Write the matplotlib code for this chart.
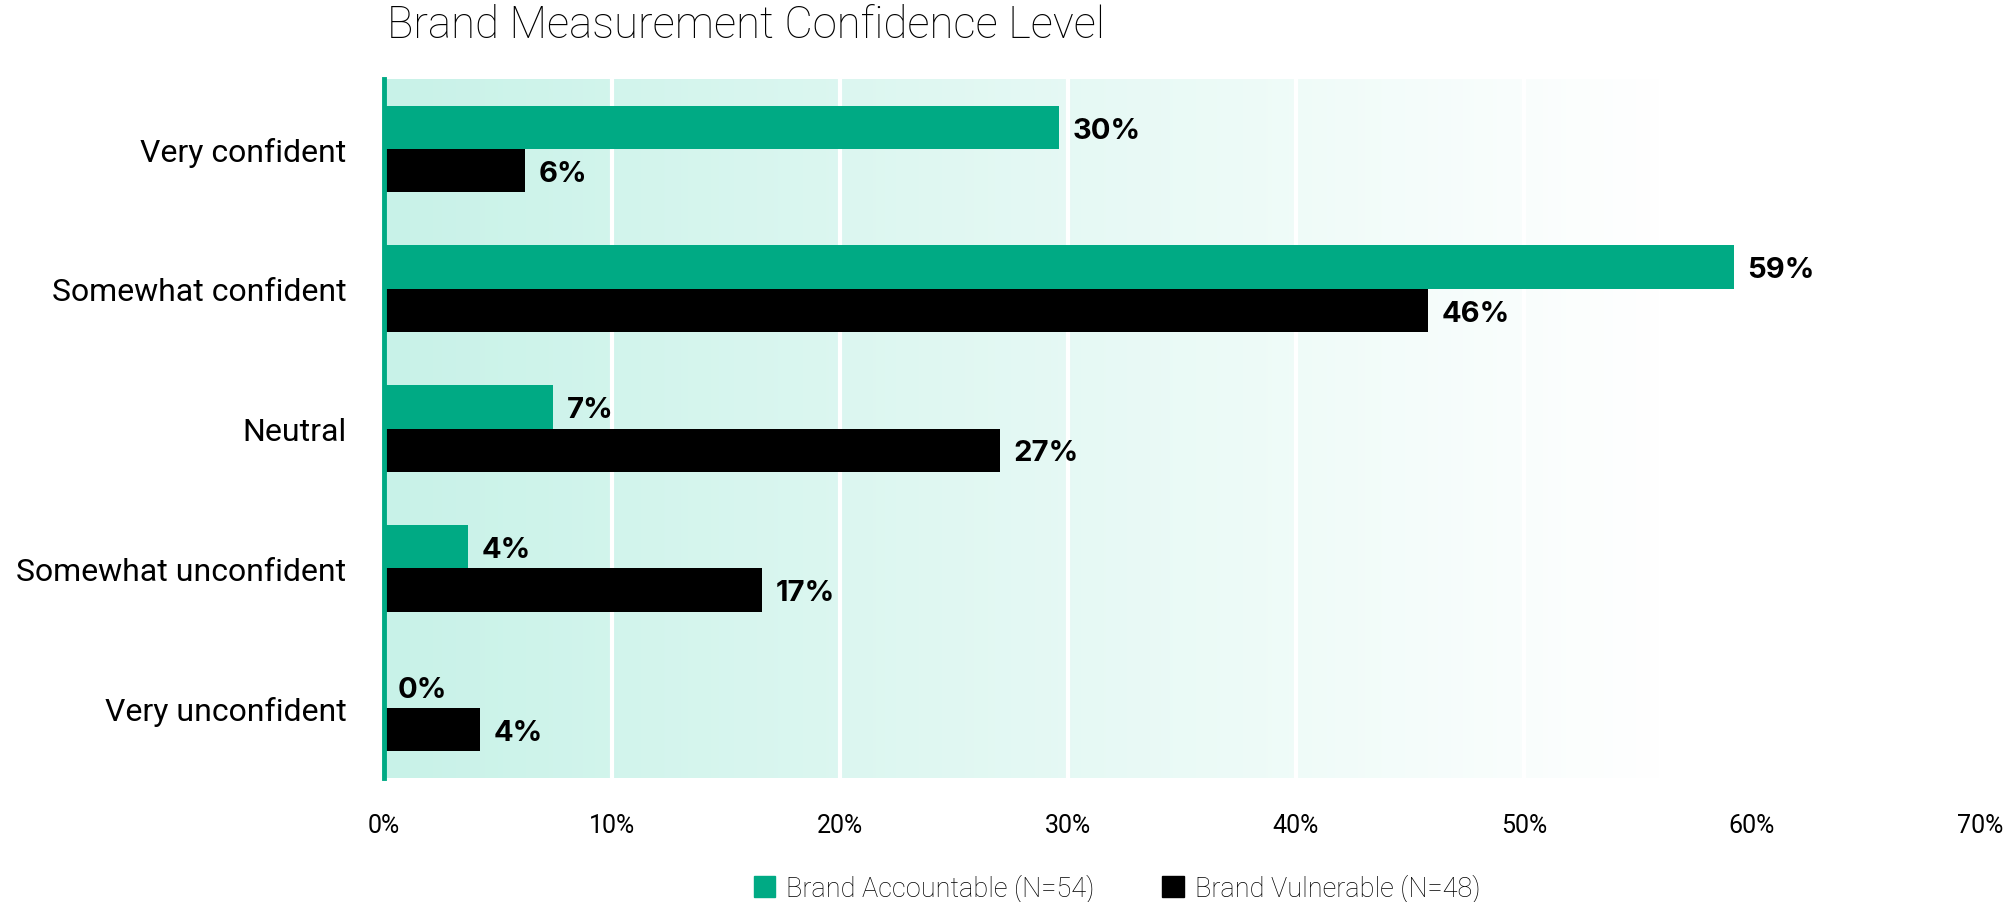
import numpy as np
import matplotlib
matplotlib.use("Agg")
import matplotlib.pyplot as plt
from matplotlib.patches import Patch

categories = ["Very confident", "Somewhat confident", "Neutral",
              "Somewhat unconfident", "Very unconfident"]
accountable = [29.6, 59.2, 7.4, 3.7, 0.0]
vulnerable = [6.2, 45.8, 27.0, 16.6, 4.2]
series_names = ["Brand Accountable (N=54)", "Brand Vulnerable (N=48)"]
xticks = [0, 10, 20, 30, 40, 50, 60, 70]
title = "Brand Measurement Confidence Level"

GREEN = "#00AA84"
BLACK = "#000000"

fig = plt.figure(figsize=(20.08, 9.03), dpi=100)
ax = fig.add_axes([384/2008, 1-779/903, (1980-384)/2008, (779-80)/903])

# gradient background
grad_end = 56
n = 256
xs = np.linspace(0, 70, n)
frac = np.clip(xs / grad_end, 0, 1)
start = np.array([200, 242, 232]) / 255.0
cols = start[None, :] * (1 - frac[:, None]) + np.ones(3)[None, :] * frac[:, None]
img = cols[None, :, :]
ax.imshow(img, extent=[0, 70, 4.5, -0.5], aspect="auto", zorder=0, interpolation="bilinear")

y = np.arange(len(categories))
h = 0.31
ax.barh(y - h/2, accountable, height=h, color=GREEN, zorder=3)
ax.barh(y + h/2, vulnerable, height=h, color=BLACK, zorder=3)

for i, (a, v) in enumerate(zip(accountable, vulnerable)):
    ax.text(a + 0.6, i - h/2 + 0.02, f"{round(a)}%", va="center", ha="left",
            fontsize=21, fontweight="bold", family="Inter", color="black", zorder=4)
    ax.text(v + 0.6, i + h/2 + 0.02, f"{round(v)}%", va="center", ha="left",
            fontsize=21, fontweight="bold", family="Inter", color="black", zorder=4)

ax.set_xlim(0, 70)
ax.set_ylim(4.5, -0.5)
ax.set_yticks(y)
ax.set_yticklabels(categories, fontsize=23, family="Roboto", fontweight="normal")
ax.set_xticks(xticks)
ax.set_xticklabels([f"{t}%" for t in xticks], fontsize=18, family="Roboto", fontweight="normal")
ax.tick_params(axis="both", length=0)
ax.tick_params(axis="y", pad=27)
ax.tick_params(axis="x", pad=25)

for t in xticks[1:6]:
    ax.axvline(t, color="white", lw=3, zorder=1)

for s in ["top", "right", "bottom"]:
    ax.spines[s].set_visible(False)
ax.spines["left"].set_color(GREEN)
ax.spines["left"].set_linewidth(3.5)
ax.spines["left"].set_zorder(5)

fig.text(387/2008, 1-26/903, title, fontsize=31.5, family="Roboto", fontweight="light",
         ha="left", va="center")

handles = [Patch(color=GREEN, label=series_names[0]), Patch(color=BLACK, label=series_names[1])]
fig.legend(handles=handles, loc="center", bbox_to_anchor=(1117/2008, 1-889/903), ncol=2,
           frameon=False, prop={"family": "Roboto", "weight": "light", "size": 19.5},
           handlelength=0.8, handleheight=0.8, handletextpad=0.4, columnspacing=2.5)

fig.savefig("out.png", dpi=100)
